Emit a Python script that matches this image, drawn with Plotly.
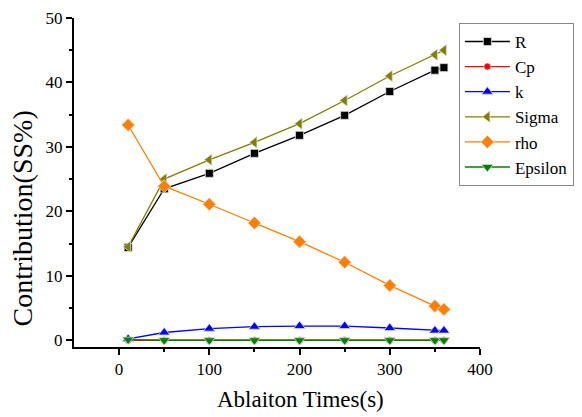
import plotly.graph_objects as go

times = [10, 50, 100, 150, 200, 250, 300, 350, 360]
R = [14.4, 23.5, 25.9, 29.0, 31.8, 34.9, 38.6, 41.9, 42.3]
Cp = [0.0, 0.0, 0.0, 0.0, 0.0, 0.0, 0.0, 0.0, 0.0]
k = [0.2, 1.2, 1.8, 2.1, 2.2, 2.2, 1.9, 1.5, 1.5]
Sigma = [14.5, 25.0, 28.0, 30.7, 33.6, 37.2, 41.0, 44.3, 45.0]
rho = [33.4, 23.9, 21.1, 18.2, 15.3, 12.1, 8.5, 5.3, 4.8]
Epsilon = [0.1, 0.0, 0.0, 0.0, 0.0, 0.0, 0.0, 0.0, 0.0]

series = [
    ("R", R, "#000000", "square", 8),
    ("Cp", Cp, "#ff0000", "circle", 7),
    ("k", k, "#0000ff", "triangle-up", 10),
    ("Sigma", Sigma, "#808000", "triangle-left", 10),
    ("rho", rho, "#ff8000", "diamond", 10),
    ("Epsilon", Epsilon, "#008000", "triangle-down", 10),
]

SERIF = "Liberation Serif"

fig = go.Figure()
for name, vals, color, sym, size in series:
    fig.add_trace(go.Scatter(
        x=times, y=vals, name=name, mode="lines+markers",
        line=dict(color=color, width=1.3),
        marker=dict(symbol=sym, size=size, color=color, line=dict(width=0.8, color="#dddddd")),
    ))

axis_font = dict(family=SERIF, size=17, color="black")
fig.update_layout(
    width=582, height=417,
    margin=dict(l=66, r=110, t=10, b=78, autoexpand=False),
    paper_bgcolor="white", plot_bgcolor="white",
    font=dict(family=SERIF, color="black"),
    showlegend=True,
    legend=dict(
        x=0.948, y=0.985, xref="paper", yref="paper", xanchor="left", yanchor="top",
        bordercolor="#888888", borderwidth=1, bgcolor="white",
        font=dict(size=17, family=SERIF, color="black"),
        tracegroupgap=0, itemwidth=45,
    ),
    xaxis=dict(
        range=[-50, 400], tickvals=[0, 100, 200, 300, 400],
        showgrid=False, zeroline=False, showline=True, linecolor="black", linewidth=2,
        ticks="outside", ticklen=6, tickwidth=1.5, tickcolor="black",
        minor=dict(tickvals=[50, 150, 250, 350], ticks="outside", ticklen=3, tickcolor="black", tickwidth=1.5),
        tickfont=axis_font, ticklabeloverflow="allow",
    ),
    yaxis=dict(
        range=[-1.05, 50], tickvals=[0, 10, 20, 30, 40, 50],
        showgrid=False, zeroline=False, showline=True, linecolor="black", linewidth=2,
        ticks="outside", ticklen=6, tickwidth=1.5, tickcolor="black",
        minor=dict(tickvals=[5, 15, 25, 35, 45], ticks="outside", ticklen=3, tickcolor="black", tickwidth=1.5),
        tickfont=axis_font, ticklabeloverflow="allow",
    ),
    annotations=[
        dict(text="Ablaiton Times(s)", xref="paper", yref="paper", x=0.559, y=-0.16,
             xanchor="center", yanchor="middle", showarrow=False,
             font=dict(size=23, family=SERIF, color="black")),
        dict(text="Contribution(SS%)", xref="paper", yref="paper", x=-0.126, y=0.39,
             xanchor="center", yanchor="middle", showarrow=False, textangle=-90,
             font=dict(size=28, family=SERIF, color="black")),
    ],
)

fig.write_html("out.html")
